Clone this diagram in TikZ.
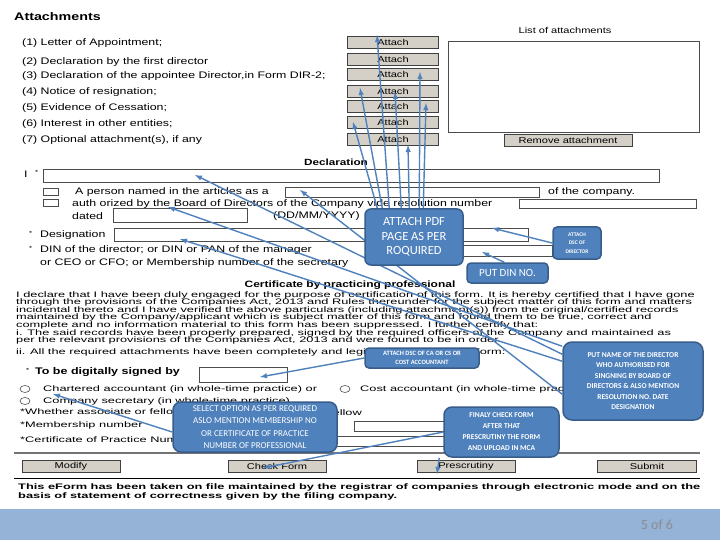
\documentclass[tikz,border=0pt]{standalone}
\usepackage{fontspec}
\setmainfont{Liberation Sans}
\newfontfamily\formfont{Liberation Sans}[FakeStretch=1.3]
\newfontfamily\parfont{Liberation Sans}[FakeStretch=1.6]
\newfontfamily\notefont{Carlito}
\definecolor{note}{RGB}{79,129,189}
\definecolor{noteline}{RGB}{56,93,138}
\definecolor{btngray}{RGB}{212,208,200}
\definecolor{band}{RGB}{149,179,215}
\pgfdeclarelayer{form}
\pgfdeclarelayer{wires}
\pgfsetlayers{form,wires,main}
\begin{document}
\begin{tikzpicture}[x=1pt,y=-1pt,
	txt/.style={anchor=west,inner sep=0pt,font=\formfont\fontsize{9.5}{10}\selectfont},
	par/.style={anchor=west,inner sep=0pt,font=\parfont\fontsize{8}{9}\selectfont},
	btn/.style={draw=black!75,fill=btngray,line width=0.8pt,minimum height=12pt,inner sep=0pt,font=\formfont\fontsize{8.5}{9}\selectfont},
	box/.style={draw=black!70,line width=0.6pt},
	note/.style={fill=note,draw=noteline,line width=1.5pt,rounded corners=6pt,text=white,align=center,inner sep=0pt},
	wire/.style={draw=note,line width=1.4pt,-latex}]
	\useasboundingbox (0,0) rectangle (720,540);
	\begin{pgfonlayer}{form}
	\fill[white] (0,0) rectangle (720,540);
	% attachments
	\node[txt,font=\formfont\bfseries\fontsize{11}{12}\selectfont] (atthead) at (14,17) {Attachments};
	\foreach \y/\t [count=\i] in {43/{(1) Letter of Appointment;},62/{(2) Declaration by the first director},
		76/{(3) Declaration of the appointee Director,in Form DIR-2;},92/{(4) Notice of resignation;},
		108/{(5) Evidence of Cessation;},124/{(6) Interest in other entities;},140/{(7) Optional attachment(s), if any}}
		\node[txt] (lbl\i) at (22,\y) {\t};
	\foreach \y [count=\i] in {42,59.5,74.5,91,106.5,122.5,139}
		\node[btn,minimum width=91pt] (att\i) at (393,\y) {Attach};
	\node[inner sep=0pt,font=\formfont\fontsize{8.5}{9}\selectfont] (listhead) at (565,30) {List of attachments};
	\draw[box,line width=0.8pt] (448,41) rectangle (699,132);
	\node[btn,minimum width=128pt] (remove) at (568,140) {Remove attachment};
	% declaration
	\node[inner sep=0pt,font=\formfont\bfseries\fontsize{9}{10}\selectfont] (dechead) at (336,162) {Declaration};
	\node[txt] (iname) at (24,174) {I};
	\node[txt,font=\formfont\fontsize{6}{6}\selectfont] (istar) at (35,172) {*};
	\draw[box] (43,169) rectangle (659,182);
	\draw[box] (43,188) rectangle (58,195);
	\draw[box] (43,199) rectangle (58,206);
	\node[txt] (person) at (75,192) {A person named in the articles as a};
	\draw[box] (285,187) rectangle (539,197);
	\node[txt] (ofco) at (548,192) {of the company.};
	\node[txt] (auth) at (72,204) {auth orized by the Board of Directors of the Company vide resolution number};
	\draw[box] (519,199) rectangle (696,208);
	\node[txt] (dated) at (72,216) {dated};
	\draw[box] (113,208) rectangle (247,222);
	\node[txt] (ddmm) at (273,216) {(DD/MM/YYYY)};
	\node[txt,font=\formfont\fontsize{6}{6}\selectfont] (dstar) at (29,233) {*};
	\node[txt] (desig) at (40,235) {Designation};
	\draw[box] (114,228) rectangle (528,241);
	\node[txt,font=\formfont\fontsize{6}{6}\selectfont] (nstar) at (29,248) {*};
	\node[txt] (dinlbl) at (40,250) {DIN of the director; or DIN or PAN of the manager};
	\node[txt] (ceolbl) at (40,263) {or CEO or CFO; or Membership number of the secretary};
	\draw[box] (380,245) rectangle (552,256);
	% certificate
	\node[inner sep=0pt,font=\formfont\bfseries\fontsize{9.2}{10}\selectfont] (certhead) at (350,285) {Certificate by practicing professional};
	\foreach \y/\t [count=\i] in {295/{I declare that I have been duly engaged for the purpose of certification of this form. It is hereby certified that I have gone},
		302.5/{through the provisions of the Companies Act, 2013 and Rules thereunder for the subject matter of this form and matters},
		310/{incidental thereto and I have verified the above particulars (including attachment(s)) from the original/certified records},
		317.5/{maintained by the Company/applicant which is subject matter of this form and found them to be true, correct and},
		325/{complete and no information material to this form has been suppressed. I further certify that:},
		333/{i. The said records have been properly prepared, signed by the required officers of the Company and maintained as},
		340.5/{per the relevant provisions of the Companies Act, 2013 and were found to be in order.},
		352/{ii. All the required attachments have been completely and legibly attached to this form:}}
		\node[par] (cert\i) at (16,\y) {\t};
	\node[txt,font=\formfont\fontsize{6}{6}\selectfont] (sstar) at (26,370) {*};
	\node[txt,font=\formfont\bfseries\fontsize{9.6}{10}\selectfont] (signed) at (35,372) {To be digitally signed by};
	\draw[box] (199,367) rectangle (287,382);
	\draw[box] (25,389) ellipse (5 and 3.5);
	\draw[box] (25,401) ellipse (5 and 3.5);
	\draw[box] (345,389) ellipse (5 and 3.5);
	\node[par] (ca) at (43,389) {Chartered accountant (in whole-time practice) or};
	\node[par] (cost) at (360,389) {Cost accountant (in whole-time practice)};
	\node[par] (cs) at (43,401) {Company secretary (in whole-time practice)};
	\node[par] (whether) at (20,412) {*Whether associate or fellow};
	\node[par,anchor=east] (fellow) at (362,413) {Fellow};
	\node[par] (member) at (20,425) {*Membership number};
	\draw[box] (354,421) rectangle (450,431);
	\node[par] (cop) at (20,440) {*Certificate of Practice Number};
	\draw[box] (250,436) rectangle (450,446);
	\draw[black!55,line width=2pt] (14,453) -- (700,453);
	\node[btn,minimum width=98pt] (modify) at (71,466) {Modify};
	\node[btn,minimum width=98pt] (check) at (277,466) {Check Form};
	\node[btn,minimum width=98pt] (prescr) at (466,466) {Prescrutiny};
	\node[btn,minimum width=99pt] (submit) at (647,466) {Submit};
	\draw[black,line width=0.8pt] (14,478) -- (700,478);
	\node[par,font=\parfont\bfseries\fontsize{8}{9}\selectfont] (foot1) at (18,487) {This eForm has been taken on file maintained by the registrar of companies through electronic mode and on the};
	\node[par,font=\parfont\bfseries\fontsize{8}{9}\selectfont] (foot2) at (18,496) {basis of statement of correctness given by the filing company.};
	\fill[band] (0,509) rectangle (720,540);
	\node[inner sep=0pt,text=black!45,font=\notefont\fontsize{14}{16}\selectfont] (page) at (657,525) {5 of 6};
	\end{pgfonlayer}
	% callouts
	\node[note,minimum width=98pt,minimum height=56pt,font=\notefont\fontsize{12.5}{14.5}\selectfont] (pdf) at (414,237) {ATTACH PDF\\PAGE AS PER\\ROQUIRED};
	\node[note,rounded corners=4pt,minimum width=48pt,minimum height=32pt,font=\notefont\bfseries\fontsize{5.5}{8.5}\selectfont] (dscdir) at (577,243) {ATTACH\\DSC OF\\DIRECTOR};
	\node[note,rounded corners=4pt,minimum width=81pt,minimum height=20pt,font=\notefont\fontsize{11}{12}\selectfont] (din) at (507.5,273) {PUT DIN NO.};
	\node[note,rounded corners=4pt,minimum width=114pt,minimum height=20pt,font=\notefont\bfseries\fontsize{6.5}{9}\selectfont] (dscca) at (422,358) {ATTACH DSC OF CA OR CS OR\\COST ACCOUNTANT};
	\node[note,rounded corners=9pt,minimum width=140pt,minimum height=78pt,font=\notefont\bfseries\fontsize{7.5}{10.5}\selectfont] (name) at (633,381) {PUT NAME OF THE DIRECTOR\\WHO AUTHORISED FOR\\SINGNING BY BOARD OF\\DIRECTORS \& ALSO MENTION\\RESOLUTION NO. DATE\\DESIGNATION};
	\node[note,rounded corners=8pt,minimum width=164pt,minimum height=50pt,font=\notefont\fontsize{9}{12.3}\selectfont] (select) at (255,427) {SELECT OPTION AS PER REQUIRED\\ASLO MENTION MEMBERSHIP NO\\OR CERTIFICATE OF PRACTICE\\NUMBER OF PROFESSIONAL};
	\node[note,rounded corners=8pt,minimum width=115pt,minimum height=50pt,font=\notefont\bfseries\fontsize{7.5}{11}\selectfont] (final) at (501.5,432) {FINALY CHECK FORM\\AFTER THAT\\PRESCRUTINY THE FORM\\AND UPLOAD IN MCA};
	% arrow ends
	\coordinate (p1) at (353,122);
	\coordinate (p2) at (360,88);
	\coordinate (p3) at (377,35);
	\coordinate (p4) at (395,92);
	\coordinate (p5) at (408,145);
	\coordinate (p6) at (420,72);
	\coordinate (p7) at (426,103);
	\coordinate (iname-in) at (195,175);
	\coordinate (person-in) at (300,190);
	\coordinate (dated-in) at (168,207);
	\coordinate (desig-in) at (180,239);
	\coordinate (dsc-in) at (492,228);
	\coordinate (din-in) at (482,252);
	\coordinate (sign-in) at (260,377);
	\coordinate (radio-in) at (53,394);
	\coordinate (check-in) at (263,468);
	\coordinate (prescr-in) at (437,474);
	\begin{pgfonlayer}{wires}
	\foreach \dx/\t in {13/p1,18/p2,25/p3,37/p4,45/p5,55/p6,59/p7}
		\draw[wire] ([xshift=\dx pt]pdf.north west) -- (\t);
	\draw[wire] ([yshift=-5pt]name.north west) -- (dated-in);
	\draw[wire] ([yshift=-13pt]name.north west) -- (iname-in);
	\draw[wire] ([yshift=-20pt]name.north west) -- (desig-in);
	\draw[wire] ([yshift=-53pt]name.north west) -- (person-in);
	\draw[wire] (dscdir.west) -- (dsc-in);
	\draw[wire] ([xshift=38pt]din.north west) -- (din-in);
	\draw[wire] (dscca.west) -- (sign-in);
	\draw[wire] ([yshift=-5pt]select.west) -- (radio-in);
	\draw[wire] (final.west) -- (check-in);
	\draw[wire] ([xshift=-4pt]final.south west) -- (prescr-in);
	\end{pgfonlayer}
\end{tikzpicture}
\end{document}
